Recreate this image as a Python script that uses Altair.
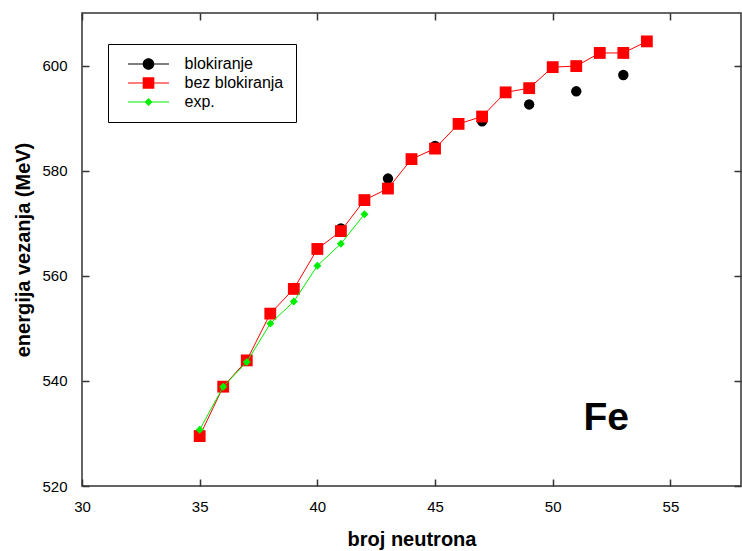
import altair as alt
import pandas as pd

# ---- data ----
neutrons_bez = [35, 36, 37, 38, 39, 40, 41, 42, 43, 44, 45, 46, 47, 48, 49, 50, 51, 52, 53, 54]
energy_bez = [529.5, 538.9, 543.9, 552.8, 557.5, 565.1, 568.5, 574.4, 576.6, 582.2,
              584.2, 588.9, 590.3, 594.9, 595.7, 599.7, 599.9, 602.4, 602.4, 604.6]

neutrons_blok = [35, 37, 39, 41, 43, 45, 47, 49, 51, 53]
energy_blok = [529.5, 543.9, 557.7, 569.0, 578.5, 584.7, 589.4, 592.6, 595.1, 598.2]

neutrons_exp = [35, 36, 37, 38, 39, 40, 41, 42]
energy_exp = [530.7, 538.9, 543.6, 550.9, 555.1, 561.9, 566.1, 571.7]

series_names = ["blokiranje", "bez blokiranja", "exp."]
series_colors = ["#000000", "#ff0000", "#00ee00"]

x_ticks = [30, 35, 40, 45, 50, 55]
y_ticks = [520, 540, 560, 580, 600]

note_text = ["Fe"]
note_x = [52.27]
note_y = [530.7]

# legend symbols: line with a marker in the middle
seg = "M-3.42,-0.1H-0.95V0.1H-3.42ZM0.95,-0.1H3.42V0.1H0.95Z"
legend_paths = [
    seg + "M-0.97,0A0.97,0.97,0,1,1,0.97,0A0.97,0.97,0,1,1,-0.97,0Z",
    seg + "M-0.97,-0.97H0.97V0.97H-0.97Z",
    "M-3.42,-0.1H-0.6V0.1H-3.42ZM0.6,-0.1H3.42V0.1H0.6Z" + "M-0.65,0L0,-0.65L0.65,0L0,0.65Z",
]

df_bez = pd.DataFrame({"n": neutrons_bez, "e": energy_bez})
df_blok = pd.DataFrame({"n": neutrons_blok, "e": energy_blok})
df_exp = pd.DataFrame({"n": neutrons_exp, "e": energy_exp})
df_leg = pd.DataFrame({"series": series_names})
df_note = pd.DataFrame({"n": note_x, "e": note_y, "t": note_text})

xscale = alt.Scale(domain=[30, 58], nice=False, zero=False)
yscale = alt.Scale(domain=[520, 610], nice=False, zero=False)

FONT = "Liberation Sans"

x_bottom = alt.Axis(orient="bottom", values=x_ticks, offset=-7, tickSize=7, labelPadding=13,
                    labelFlush=False, title="broj neutrona", titlePadding=15, format="d")
y_left = alt.Axis(orient="left", values=y_ticks, offset=-7, tickSize=7, labelPadding=15,
                  title="energija vezanja (MeV)", titlePadding=8, format="d")
x_top = alt.Axis(orient="top", values=x_ticks, offset=-7, tickSize=7, labels=False, title=None)
y_right = alt.Axis(orient="right", values=y_ticks, offset=-7, tickSize=7, labels=False, title=None)

blok_pts = alt.Chart(df_blok).mark_point(filled=True, shape="circle", size=108, color="#000000", opacity=1).encode(
    x=alt.X("n:Q", scale=xscale, axis=x_bottom),
    y=alt.Y("e:Q", scale=yscale, axis=y_left),
)

bez_line = alt.Chart(df_bez).mark_line(color="#ff0000", strokeWidth=1).encode(
    x=alt.X("n:Q", scale=xscale, axis=x_top),
    y=alt.Y("e:Q", scale=yscale, axis=y_right),
)
bez_pts = alt.Chart(df_bez).mark_point(filled=True, shape="square", size=140, color="#ff0000", opacity=1).encode(
    x=alt.X("n:Q", scale=xscale, axis=None),
    y=alt.Y("e:Q", scale=yscale, axis=None),
)
exp_line = alt.Chart(df_exp).mark_line(color="#00ee00", strokeWidth=1).encode(
    x=alt.X("n:Q", scale=xscale, axis=None),
    y=alt.Y("e:Q", scale=yscale, axis=None),
)
exp_pts = alt.Chart(df_exp).mark_point(filled=True, shape="diamond", size=64, color="#00ee00", opacity=1).encode(
    x=alt.X("n:Q", scale=xscale, axis=None),
    y=alt.Y("e:Q", scale=yscale, axis=None),
)

leg_props = dict(
    orient="none", legendX=26, legendY=31, title=None,
    strokeColor="#000000", fillColor="#ffffff", padding=12,
    symbolSize=144, symbolOffset=20.5, labelOffset=28, rowPadding=3,
    symbolStrokeWidth=0, symbolOpacity=1,
    labelFont=FONT, labelFontSize=16, labelColor="#000000",
)
legend_layer = alt.Chart(df_leg).mark_point(filled=True, opacity=0).encode(
    color=alt.Color("series:N", scale=alt.Scale(domain=series_names, range=series_colors),
                    legend=alt.Legend(**leg_props)),
    shape=alt.Shape("series:N", scale=alt.Scale(domain=series_names, range=legend_paths),
                    legend=alt.Legend(**leg_props)),
)

note = alt.Chart(df_note).mark_text(font=FONT, fontSize=39, fontWeight="bold", color="#000000",
                                    align="center", baseline="alphabetic").encode(
    x=alt.X("n:Q", scale=xscale, axis=None),
    y=alt.Y("e:Q", scale=yscale, axis=None),
    text="t:N",
)

chart = alt.layer(blok_pts, bez_line, bez_pts, exp_line, exp_pts, legend_layer, note).resolve_axis(
    x="independent", y="independent"
).properties(
    width=659, height=473,
    autosize=alt.AutoSizeParams(type="none"),
    padding={"left": 82, "top": 13, "right": 1, "bottom": 65},
    background="#ffffff",
).configure_view(
    stroke="#333333", strokeWidth=1.5
).configure_axis(
    grid=False, domain=False,
    labelFont=FONT, labelFontSize=15, labelColor="#000000",
    titleFont=FONT, titleFontSize=20, titleFontWeight="bold", titleColor="#000000",
    tickColor="#333333", tickWidth=1.5,
)

chart.save("out.html", embed_options={"renderer": "svg", "actions": False})
